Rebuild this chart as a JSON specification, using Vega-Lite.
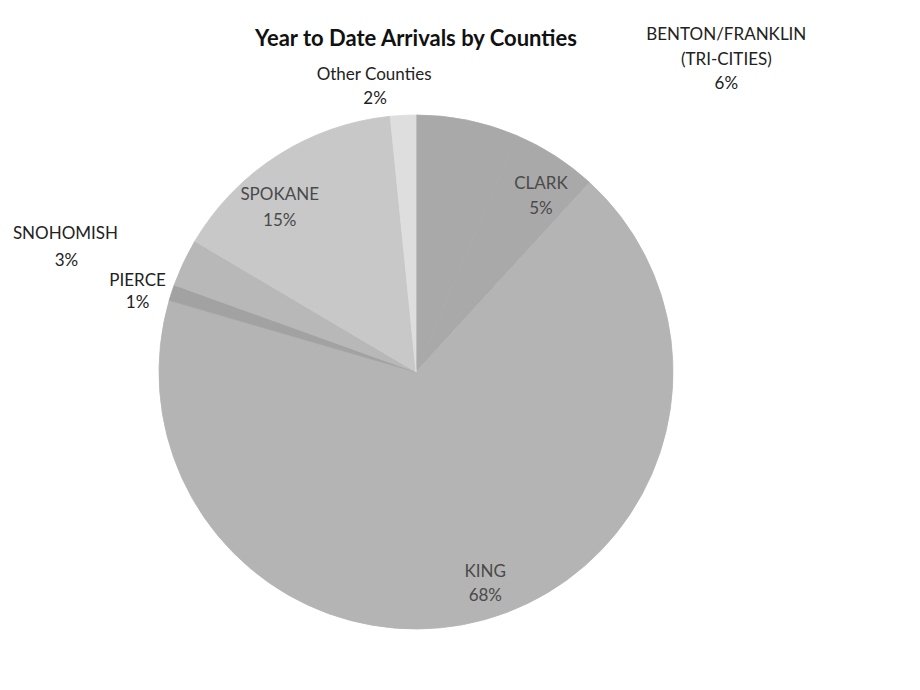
{
  "$schema": "https://vega.github.io/schema/vega-lite/v6.json",
  "autosize": "none",
  "width": 832,
  "height": 624,
  "padding": {"left": 0, "top": 60, "right": 88, "bottom": 6},
  "background": "white",
  "config": {"view": {"stroke": null}, "text": {"font": "Lato"}},
  "title": {
    "text": "Year to Date Arrivals by Counties",
    "font": "Lato",
    "fontSize": 22,
    "fontWeight": "bold",
    "color": "#111111",
    "anchor": "middle",
    "baseline": "alphabetic",
    "offset": -47
  },
  "data": {
    "values": [
      {"county": "BENTON/FRANKLIN (TRI-CITIES)", "share": 0.064, "rank": 1},
      {"county": "CLARK", "share": 0.054, "rank": 2},
      {"county": "KING", "share": 0.677, "rank": 3},
      {"county": "PIERCE", "share": 0.010, "rank": 4},
      {"county": "SNOHOMISH", "share": 0.030, "rank": 5},
      {"county": "SPOKANE", "share": 0.149, "rank": 6},
      {"county": "Other Counties", "share": 0.016, "rank": 7}
    ]
  },
  "encoding": {
    "theta": {"field": "share", "type": "quantitative", "stack": true},
    "order": {"field": "rank", "type": "quantitative"}
  },
  "layer": [
    {
      "mark": {"type": "arc", "outerRadius": 257, "strokeWidth": 0.8},
      "encoding": {
        "color": {
          "field": "county",
          "type": "nominal",
          "legend": null,
          "scale": {
            "domain": ["BENTON/FRANKLIN (TRI-CITIES)", "CLARK", "KING", "PIERCE", "SNOHOMISH", "SPOKANE", "Other Counties"],
            "range": ["#a9a9a9", "#a9a9a9", "#b4b4b4", "#a2a2a2", "#b8b8b8", "#c8c8c8", "#dedede"]
          }
        },
        "stroke": {
          "field": "county",
          "type": "nominal",
          "legend": null,
          "scale": {
            "domain": ["BENTON/FRANKLIN (TRI-CITIES)", "CLARK", "KING", "PIERCE", "SNOHOMISH", "SPOKANE", "Other Counties"],
            "range": ["#a9a9a9", "#a9a9a9", "#b4b4b4", "#a2a2a2", "#b8b8b8", "#c8c8c8", "#dedede"]
          }
        }
      }
    },
    {
      "mark": {"type": "text", "radius": 216, "dx": 8, "dy": -6, "fontSize": 17, "color": "#4a4a4a", "baseline": "middle"},
      "encoding": {
        "text": {"condition": {"test": "datum.county === 'CLARK'", "field": "county"}, "value": ""}
      }
    },
    {
      "mark": {"type": "text", "radius": 216, "dx": 8, "dy": 19, "fontSize": 17, "color": "#4a4a4a", "baseline": "middle"},
      "encoding": {
        "text": {"condition": {"test": "datum.county === 'CLARK'", "field": "share", "format": ".0%"}, "value": ""}
      }
    },
    {
      "mark": {"type": "text", "radius": 216, "dx": 11, "dy": -8, "fontSize": 17, "color": "#4a4a4a", "baseline": "middle"},
      "encoding": {
        "text": {"condition": {"test": "datum.county === 'KING'", "field": "county"}, "value": ""}
      }
    },
    {
      "mark": {"type": "text", "radius": 216, "dx": 11, "dy": 16, "fontSize": 17, "color": "#4a4a4a", "baseline": "middle"},
      "encoding": {
        "text": {"condition": {"test": "datum.county === 'KING'", "field": "share", "format": ".0%"}, "value": ""}
      }
    },
    {
      "mark": {"type": "text", "radius": 216, "dx": -20, "dy": 5, "fontSize": 17, "color": "#4a4a4a", "baseline": "middle"},
      "encoding": {
        "text": {"condition": {"test": "datum.county === 'SPOKANE'", "field": "county"}, "value": ""}
      }
    },
    {
      "mark": {"type": "text", "radius": 216, "dx": -20, "dy": 31, "fontSize": 17, "color": "#4a4a4a", "baseline": "middle"},
      "encoding": {
        "text": {"condition": {"test": "datum.county === 'SPOKANE'", "field": "share", "format": ".0%"}, "value": ""}
      }
    },
    {
      "mark": {"type": "text", "radius": 257, "dx": 259, "dy": -85, "fontSize": 17, "color": "#222222", "baseline": "middle", "lineBreak": " ", "lineHeight": 25},
      "encoding": {
        "text": {"condition": {"test": "datum.county === 'BENTON/FRANKLIN (TRI-CITIES)'", "field": "county"}, "value": ""}
      }
    },
    {
      "mark": {"type": "text", "radius": 257, "dx": 259, "dy": -36, "fontSize": 17, "color": "#222222", "baseline": "middle"},
      "encoding": {
        "text": {"condition": {"test": "datum.county === 'BENTON/FRANKLIN (TRI-CITIES)'", "field": "share", "format": ".0%"}, "value": ""}
      }
    },
    {
      "mark": {"type": "text", "radius": 257, "dx": -29, "dy": -40, "fontSize": 17, "color": "#222222", "baseline": "middle"},
      "encoding": {
        "text": {"condition": {"test": "datum.county === 'Other Counties'", "field": "county"}, "value": ""}
      }
    },
    {
      "mark": {"type": "text", "radius": 257, "dx": -28, "dy": -16, "fontSize": 17, "color": "#222222", "baseline": "middle"},
      "encoding": {
        "text": {"condition": {"test": "datum.county === 'Other Counties'", "field": "share", "format": ".0%"}, "value": ""}
      }
    },
    {
      "mark": {"type": "text", "radius": 257, "dx": -118, "dy": -29, "fontSize": 17, "color": "#222222", "baseline": "middle"},
      "encoding": {
        "text": {"condition": {"test": "datum.county === 'SNOHOMISH'", "field": "county"}, "value": ""}
      }
    },
    {
      "mark": {"type": "text", "radius": 257, "dx": -117, "dy": -2, "fontSize": 17, "color": "#222222", "baseline": "middle"},
      "encoding": {
        "text": {"condition": {"test": "datum.county === 'SNOHOMISH'", "field": "share", "format": ".0%"}, "value": ""}
      }
    },
    {
      "mark": {"type": "text", "radius": 257, "dx": -34, "dy": -12, "fontSize": 17, "color": "#222222", "baseline": "middle"},
      "encoding": {
        "text": {"condition": {"test": "datum.county === 'PIERCE'", "field": "county"}, "value": ""}
      }
    },
    {
      "mark": {"type": "text", "radius": 257, "dx": -34, "dy": 10, "fontSize": 17, "color": "#222222", "baseline": "middle"},
      "encoding": {
        "text": {"condition": {"test": "datum.county === 'PIERCE'", "field": "share", "format": ".0%"}, "value": ""}
      }
    }
  ]
}
